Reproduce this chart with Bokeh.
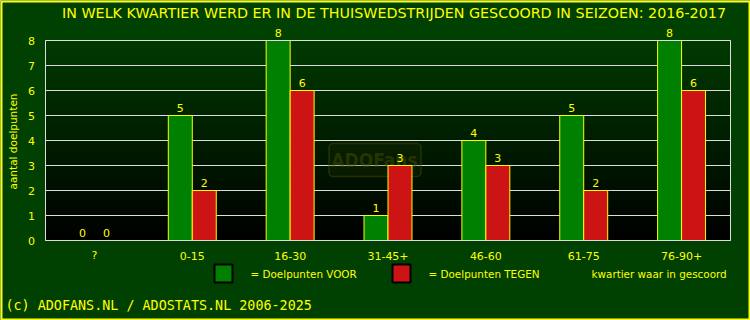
import numpy as np
from bokeh.plotting import figure
from bokeh.models import ColumnDataSource, Range1d
from bokeh.core.properties import value
from bokeh.embed import file_html
from bokeh.resources import INLINE

categories = ["?", "0-15", "16-30", "31-45+", "46-60", "61-75", "76-90+"]
voor = [0, 5, 8, 1, 4, 5, 8]
tegen = [0, 2, 6, 3, 3, 2, 6]
y_ticks = [0, 1, 2, 3, 4, 5, 6, 7, 8]
title_text = "IN WELK KWARTIER WERD ER IN DE THUISWEDSTRIJDEN GESCOORD IN SEIZOEN: 2016-2017"
y_label = "aantal doelpunten"
x_label = "kwartier waar in gescoord"
legend_voor = "= Doelpunten VOOR"
legend_tegen = "= Doelpunten TEGEN"
footer = "(c) ADOFANS.NL / ADOSTATS.NL 2006-2025"
watermark = "ADOFans"

YEL = "#ffff00"
GREEN = "#008000"
RED = "#cc1414"
FONT = "DejaVu Sans"

W, H = 750, 320
FL, FR, FT, FB = 45, 730, 40, 240          # plot area in pixels
n = len(categories)
ymax = max(y_ticks)
sx = (FR - FL) / n                          # px per category
sy = (FB - FT) / ymax                       # px per unit


def px(xp):
    return (xp - FL) / sx


def py(yp):
    return ymax - (yp - FT) / sy


p = figure(width=W, height=H, output_backend="svg", toolbar_location=None,
           x_range=Range1d(px(0), px(W)), y_range=Range1d(py(H), py(0)),
           x_axis_location=None, y_axis_location=None,
           min_border=0, min_border_left=0, min_border_right=0,
           min_border_top=0, min_border_bottom=0)
p.grid.visible = False
p.outline_line_color = None
p.background_fill_color = "#004000"
p.border_fill_color = "#004000"

# background gradient inside the plot area
h = 200
grad = np.zeros((h, 1), dtype=np.uint32)
view = grad.view(dtype=np.uint8).reshape((h, 1, 4))
for i in range(h):
    t = i / (h - 1)
    view[i, 0, 1] = int(round(58 * t))
    view[i, 0, 3] = 255
p.image_rgba(image=[grad], x=0, y=0, dw=n, dh=ymax)

# horizontal grid lines
p.segment(x0=[0] * len(y_ticks), x1=[n] * len(y_ticks), y0=y_ticks, y1=y_ticks,
          line_color="#dddddd", line_width=1)

# watermark
p.rect(x=px(374.5), y=py(159.5), width=92, height=33, width_units="screen", height_units="screen",
       fill_color="#202c00", fill_alpha=0.25, line_color="#4a5500", line_alpha=0.45,
       line_width=1.5, border_radius=4)
p.text(x=px(374), y=py(159), text=[watermark], text_font=value("DejaVu Sans Condensed, Liberation Sans"),
       text_font_size="19px", text_font_style="bold", text_color="#4a5500", text_alpha=0.45,
       text_align="center", text_baseline="middle")

# bars
centers = [i + 0.5 for i in range(n)]
off = 0.1225
src = ColumnDataSource(dict(xv=[c - off for c in centers], xt=[c + off for c in centers],
                            voor=voor, tegen=tegen,
                            voor_txt=[str(v) for v in voor], tegen_txt=[str(v) for v in tegen]))
p.vbar(x="xv", top="voor", bottom=0, width=0.245, source=src,
       fill_color=GREEN, line_color=YEL, line_width=1)
p.vbar(x="xt", top="tegen", bottom=0, width=0.245, source=src,
       fill_color=RED, line_color=YEL, line_width=1)
p.text(x="xv", y="voor", text="voor_txt", source=src,
       text_font=value(FONT), text_font_size="11px", text_color=YEL,
       text_align="center", text_baseline="bottom", y_offset=-4)
p.text(x="xt", y="tegen", text="tegen_txt", source=src,
       text_font=value(FONT), text_font_size="11px", text_color=YEL,
       text_align="center", text_baseline="bottom", y_offset=-4)

# plot frame outline
p.quad(left=[0], right=[n], bottom=[0], top=[ymax], fill_alpha=0, line_color="#dddddd", line_width=1)

# axis tick labels
p.text(x=centers, y=[py(255)] * n, text=categories, text_font=value(FONT), text_font_size="11px",
       text_color=YEL, text_align="center", text_baseline="middle")
p.text(x=[px(31)] * len(y_ticks), y=y_ticks, text=[str(t) for t in y_ticks],
       text_font=value(FONT), text_font_size="11px", text_color=YEL,
       text_align="center", text_baseline="middle")
p.text(x=[px(12)], y=[py(141)], text=[y_label], angle=np.pi / 2, text_font=value(FONT),
       text_font_size="10.5px", text_color=YEL, text_align="center", text_baseline="middle")

# title, x label, footer
p.text(x=[px(393.5)], y=[py(12)], text=[title_text], text_font=value(FONT), text_font_size="14.3px",
       text_color=YEL, text_align="center", text_baseline="middle")
p.text(x=[px(591)], y=[py(273)], text=[x_label], text_font=value(FONT), text_font_size="10.4px",
       text_color=YEL, text_align="left", text_baseline="middle")
p.text(x=[px(5)], y=[py(305)], text=[footer], text_font=value("DejaVu Sans Mono"),
       text_font_size="13.4px", text_color=YEL, text_align="left", text_baseline="middle")

# legend
p.rect(x=[px(223), px(401)], y=[py(273)] * 2, width=18, height=18,
       width_units="screen", height_units="screen",
       fill_color=[GREEN, RED], line_color="#000000", line_width=2)
p.text(x=[px(250), px(428)], y=[py(273)] * 2, text=[legend_voor, legend_tegen],
       text_font=value(FONT), text_font_size="10.4px", text_color=YEL,
       text_align="left", text_baseline="middle")

# outer yellow border
p.quad(left=[px(1)], right=[px(W - 1)], top=[py(1)], bottom=[py(H - 1)],
       fill_alpha=0, line_color=YEL, line_width=2)

open("out.html", "w").write(file_html(p, INLINE))
